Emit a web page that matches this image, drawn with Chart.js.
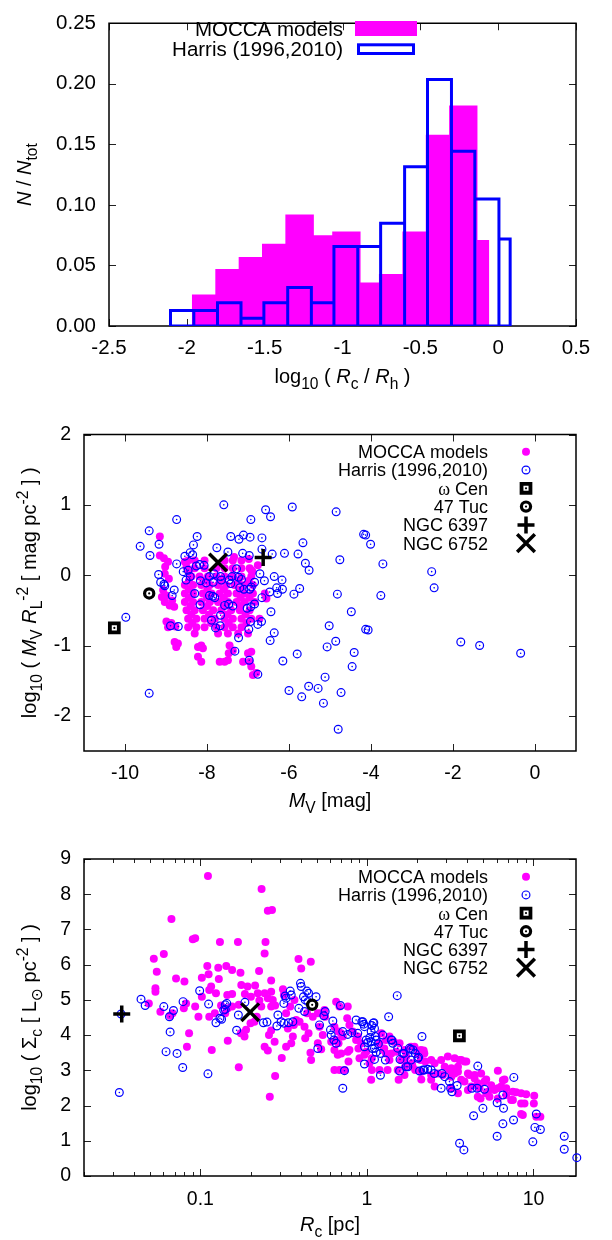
<!DOCTYPE html>
<html>
<head>
<meta charset="utf-8">
<script src="https://cdn.jsdelivr.net/npm/chart.js@4.4.1/dist/chart.umd.min.js"></script>
<style>
body { margin: 0; background: #fff; width: 612px; height: 1240px; position: relative; overflow: hidden; }
canvas { position: absolute; left: 0; }
</style>
</head>
<body>
<canvas id="histChart" width="612" height="400" style="top:0px"></canvas>
<canvas id="magChart" width="612" height="425" style="top:400px"></canvas>
<canvas id="sigmaChart" width="612" height="415" style="top:825px"></canvas>
<script>
var SANS = "'Liberation Sans', 'DejaVu Sans', Arial, sans-serif";
var SERIF = "'Liberation Serif', 'DejaVu Serif', serif";
var MAGENTA = '#ff00ff';
var BLUE = '#0000ff';

var seriesNames = ['MOCCA models', 'Harris (1996,2010)'];

// ---- panel 1: histogram of log10(Rc/Rh)
var moccaEdges = [-1.968, -1.817, -1.667, -1.517, -1.367, -1.184, -1.066, -0.884, -0.766, -0.615, -0.465, -0.315, -0.133, -0.057];
var moccaFrac = [0.026, 0.047, 0.057, 0.068, 0.092, 0.075, 0.078, 0.036, 0.043, 0.078, 0.158, 0.182, 0.071];
var harrisEdges = [-2.105, -1.955, -1.803, -1.652, -1.505, -1.352, -1.200, -1.055, -0.902, -0.755, -0.601, -0.454, -0.300, -0.150, 0.005, 0.077];
var harrisFrac = [0.0127, 0.0127, 0.0191, 0.0064, 0.0191, 0.0318, 0.0191, 0.0656, 0.0656, 0.0849, 0.1314, 0.2035, 0.1442, 0.1048, 0.0718];
var histXTicks = [-2.5, -2, -1.5, -1, -0.5, 0, 0.5];
var histXLabels = ['-2.5', '-2', '-1.5', '-1', '-0.5', '0', '0.5'];
var histYTicks = [0, 0.05, 0.1, 0.15, 0.2, 0.25];
var histYLabels = ['0.00', '0.05', '0.10', '0.15', '0.20', '0.25'];

// ---- special clusters (panels 2 and 3)
var specialNames = ['ω Cen', '47 Tuc', 'NGC 6397', 'NGC 6752'];
var specialMv = [-10.26, -9.41, -6.63, -7.73];
var specialMvR = [-0.75, -0.26, 0.25, 0.18];
var specialRc = [3.59, 0.469, 0.0337, 0.199];
var specialSigma = [3.98, 4.86, 4.60, 4.65];

// ---- panel 2: [M_V, log10(M_V R_L^-2)]
var moccaMag = [
  [-9.15, 0.55], [-9.15, 0.28], [-9.05, 0.24], [-8.95, 0.19], [-9.02, 0.12],
  [-9.03, 0.02], [-8.93, -0.05], [-9.07, -0.21], [-8.99, -0.29], [-9.03, -0.38], [-8.91, -0.43], [-8.80, -0.45], [-8.85, -0.36], [-9.10, -0.31],
  [-8.99, -0.66], [-8.87, -0.68], [-8.77, -0.73], [-8.95, -0.74],
  [-8.79, -0.95], [-8.75, -1.02], [-8.71, -0.97],
  [-8.54, 0.19], [-8.46, 0.21], [-8.50, 0.12], [-8.45, 0.05],
  [-8.30, 0.21], [-8.06, 0.21], [-7.57, 0.21], [-7.37, 0.21], [-7.16, 0.21],
  [-8.30, 0.10], [-8.06, 0.10], [-7.77, 0.10], [-7.57, 0.10], [-7.37, 0.10], [-7.16, 0.10], [-6.96, 0.10],
  [-8.38, -0.02], [-8.18, -0.02], [-7.98, -0.02], [-7.77, -0.02], [-7.57, -0.02], [-7.37, -0.02], [-7.16, -0.02], [-6.92, -0.02],
  [-8.44, -0.08], [-8.04, -0.08], [-7.63, -0.08], [-7.23, -0.08], [-6.98, -0.08],
  [-8.54, -0.14], [-8.34, -0.14], [-8.14, -0.14], [-7.93, -0.14], [-7.73, -0.14], [-7.53, -0.14], [-7.33, -0.14], [-7.08, -0.14], [-6.88, -0.14],
  [-8.44, -0.20], [-7.99, -0.20], [-7.59, -0.20], [-7.18, -0.20],
  [-8.54, -0.26], [-8.34, -0.26], [-8.10, -0.26], [-7.89, -0.26], [-7.69, -0.26], [-7.49, -0.26], [-7.28, -0.26], [-7.08, -0.26], [-6.88, -0.26],
  [-8.44, -0.32], [-8.00, -0.32], [-7.59, -0.32], [-7.18, -0.32], [-6.96, -0.32],
  [-8.54, -0.38], [-8.34, -0.38], [-8.14, -0.38], [-7.93, -0.38], [-7.73, -0.38], [-7.49, -0.38], [-7.28, -0.38], [-7.08, -0.38], [-6.84, -0.38],
  [-8.40, -0.44], [-7.99, -0.44], [-7.59, -0.44], [-7.18, -0.44],
  [-8.50, -0.50], [-8.30, -0.50], [-8.10, -0.50], [-7.85, -0.50], [-7.65, -0.50], [-7.41, -0.50], [-7.20, -0.50], [-6.96, -0.50],
  [-8.38, -0.56], [-7.95, -0.56], [-7.50, -0.56], [-7.06, -0.56],
  [-8.46, -0.62], [-8.26, -0.62], [-8.06, -0.62], [-7.81, -0.62], [-7.57, -0.62], [-7.37, -0.62], [-7.16, -0.62], [-6.92, -0.62], [-6.72, -0.62],
  [-8.36, -0.68], [-7.90, -0.68], [-7.47, -0.68], [-7.04, -0.68],
  [-8.46, -0.74], [-8.26, -0.74], [-8.06, -0.74], [-7.77, -0.74], [-7.57, -0.74], [-7.37, -0.74], [-7.16, -0.74],
  [-8.30, -0.83], [-7.73, -0.83], [-7.49, -0.83], [-7.24, -0.83], [-7.00, -0.83],
  [-8.14, -1.00], [-8.22, -1.02], [-8.10, -1.04], [-8.22, -1.16], [-8.14, -1.23],
  [-7.69, -1.23], [-7.57, -1.23], [-7.49, -1.21],
  [-7.45, -1.00], [-7.37, -1.07], [-7.47, -1.11],
  [-7.12, -1.23], [-6.96, -1.23], [-6.92, -1.30], [-6.88, -1.42], [-6.80, -1.39],
  [-7.00, -1.11], [-6.92, -1.09],
  [-6.98, 0.23], [-6.92, 0.07], [-6.76, 0.14], [-6.59, -0.26], [-6.55, -0.33], [-6.89, 0.05], [-7.34, 0.26]
];
var harrisMag = [
  [-7.59, 1.00], [-5.92, 0.97], [-4.85, 0.90], [-6.57, 0.93], [-6.45, 0.83], [-6.93, 0.79], [-8.74, 0.79], [-9.41, 0.63],
  [-9.63, 0.41], [-9.17, 0.44], [-9.39, 0.28], [-8.24, 0.55], [-7.42, 0.55], [-7.22, 0.51], [-7.11, 0.57], [-6.95, 0.54],
  [-6.66, 0.53], [-5.66, 0.46], [-4.18, 0.58], [-4.13, 0.57], [-4.01, 0.44], [-7.76, 0.39], [-7.49, 0.33], [-7.13, 0.31],
  [-6.97, 0.28], [-6.66, 0.37], [-6.41, 0.30], [-6.11, 0.31], [-5.78, 0.30], [-4.76, 0.22], [-5.60, 0.17], [-5.51, 0.07],
  [-3.71, 0.16], [-2.52, 0.05], [-2.46, -0.18], [-6.71, 0.02], [-6.60, -0.08], [-6.36, -0.02], [-6.17, -0.07], [-6.30, -0.18],
  [-6.16, -0.20], [-6.47, -0.24], [-6.28, -0.26], [-5.88, -0.27], [-5.74, -0.19], [-4.82, -0.27], [-3.76, -0.29], [-6.66, -0.32],
  [-6.44, -0.52], [-4.48, -0.52], [-5.02, -0.72], [-4.13, -0.77], [-4.07, -0.78], [-6.36, -0.82], [-6.46, -0.93], [-7.23, -0.89],
  [-7.32, -1.08], [-6.97, -1.21], [-6.76, -1.41], [-6.15, -1.22], [-5.80, -1.12], [-5.07, -1.02], [-4.86, -0.94], [-4.41, -1.10],
  [-4.46, -1.30], [-5.12, -1.45], [-5.52, -1.58], [-5.29, -1.61], [-6.00, -1.64], [-5.69, -1.73], [-4.73, -1.67], [-5.16, -1.82],
  [-4.80, -2.19], [-9.41, -1.68], [-9.98, -0.60], [-1.81, -0.95], [-1.35, -1.00], [-0.35, -1.11], [-9.18, 0.01], [-9.13, -0.10],
  [-9.05, -0.13], [-8.85, -0.29], [-8.80, -0.21], [-8.89, -0.72], [-8.70, -0.73], [-8.74, 0.16],
  [-8.33, 0.43], [-9.03, -0.15], [-8.54, 0.27], [-8.41, 0.32], [-8.35, 0.29], [-8.26, 0.13], [-8.18, 0.15], [-8.07, 0.14],
  [-8.58, 0.05], [-8.46, 0.07], [-8.41, -0.02], [-8.51, -0.07], [-8.30, -0.26], [-8.16, -0.08], [-8.02, -0.11], [-7.94, -0.02],
  [-7.83, 0.02], [-7.85, -0.10], [-7.86, -0.30], [-7.94, -0.29], [-7.81, -0.32], [-7.67, -0.02], [-7.65, -0.07], [-7.46, -0.07],
  [-7.42, -0.12], [-7.28, 0.09], [-7.23, -0.03], [-7.39, -0.02], [-7.16, -0.06], [-7.20, -0.18], [-7.10, -0.20], [-6.96, -0.20],
  [-6.92, -0.17], [-6.84, -0.10], [-8.17, -0.42], [-7.57, -0.43], [-7.47, -0.41], [-7.37, -0.44], [-7.02, -0.47], [-6.93, -0.45],
  [-6.84, -0.41], [-7.67, -0.57], [-7.89, -0.64], [-7.79, -0.75], [-7.68, -0.72], [-6.94, -0.66], [-6.76, -0.70], [-6.67, -0.66],
  [-6.98, -0.77]
];
var magXTicks = [-10, -8, -6, -4, -2, 0];
var magXLabels = ['-10', '-8', '-6', '-4', '-2', '0'];
var magYTicks = [-2, -1, 0, 1, 2];
var magYLabels = ['-2', '-1', '0', '1', '2'];

// ---- panel 3: [R_c (pc), log10(Sigma_c)]
var moccaSigma = [
  [0.111, 8.52], [0.233, 8.15], [0.254, 7.53], [0.269, 7.55], [0.067, 7.30], [0.090, 6.72], [0.093, 6.75], [0.131, 6.64],
  [0.168, 6.64], [0.246, 6.64], [0.243, 6.32], [0.0525, 6.17], [0.0603, 6.30], [0.0547, 5.80], [0.0537, 5.33], [0.0537, 5.23],
  [0.0575, 4.66], [0.049, 4.90], [0.0714, 5.61], [0.0802, 5.52], [0.110, 5.96], [0.112, 5.73], [0.102, 5.63], [0.128, 5.91],
  [0.143, 5.96], [0.155, 5.85], [0.174, 5.77], [0.129, 5.59], [0.116, 5.38], [0.113, 5.28], [0.124, 5.19], [0.145, 5.14],
  [0.155, 5.17], [0.176, 5.42], [0.192, 5.38], [0.213, 5.41], [0.225, 5.82], [0.266, 5.55], [0.266, 5.23], [0.243, 5.19],
  [0.221, 5.19], [0.201, 5.09], [0.185, 5.17], [0.272, 5.00], [0.254, 5.05], [0.313, 5.30], [0.317, 5.14], [0.281, 4.84],
  [0.266, 4.81], [0.226, 4.98], [0.232, 4.81], [0.170, 4.86], [0.155, 4.81], [0.133, 4.84], [0.146, 4.76], [0.141, 4.62],
  [0.122, 4.62], [0.113, 4.52], [0.0973, 4.52], [0.093, 4.81], [0.102, 5.09], [0.0795, 4.76], [0.082, 4.90], [0.068, 4.62],
  [0.0658, 4.55], [0.0855, 4.05], [0.083, 3.67], [0.117, 3.58], [0.146, 3.84], [0.170, 3.09], [0.184, 3.96], [0.175, 4.05],
  [0.188, 4.15], [0.200, 4.34], [0.218, 4.52], [0.211, 4.38], [0.258, 4.00], [0.266, 4.13], [0.279, 3.81], [0.243, 3.67],
  [0.254, 3.56], [0.281, 2.84], [0.261, 2.25], [0.308, 3.35], [0.327, 3.67], [0.351, 3.77], [0.359, 3.96], [0.335, 4.19],
  [0.364, 4.29], [0.376, 4.43], [0.394, 4.38], [0.422, 4.24], [0.426, 3.91], [0.458, 3.50], [0.462, 3.29], [0.388, 6.16],
  [0.403, 5.89], [0.460, 6.08], [0.437, 4.62], [0.473, 4.52], [0.507, 4.62], [0.519, 4.24], [0.543, 4.00], [0.531, 4.62],
  [0.556, 4.71], [0.561, 4.52], [0.610, 3.81], [0.638, 3.58], [0.638, 4.24], [0.675, 4.10], [0.716, 3.96], [0.653, 4.95],
  [0.684, 4.81], [0.767, 4.81], [0.761, 4.48], [0.785, 4.29], [0.675, 3.77], [0.700, 3.48], [0.767, 3.53], [0.775, 3.25],
  [0.684, 3.01], [0.733, 3.01], [0.881, 3.96], [0.923, 3.77], [0.889, 3.62], [0.966, 3.44], [0.902, 3.34], [1.07, 3.01],
  [1.07, 3.34], [1.19, 3.77], [1.26, 3.58], [1.30, 3.48], [1.365, 3.96], [1.45, 3.81], [1.365, 3.29], [1.53, 3.01],
  [1.68, 2.87], [1.50, 3.53], [1.60, 3.29], [1.72, 3.39], [1.93, 3.67], [2.02, 3.48], [2.19, 3.56], [2.10, 3.29],
  [2.24, 3.25], [2.43, 3.29], [2.55, 3.20], [2.12, 2.74], [2.43, 2.73], [2.55, 2.54], [2.67, 2.91], [2.86, 2.87],
  [3.21, 2.82], [2.79, 3.29], [3.06, 3.39], [3.36, 3.34], [3.60, 3.29], [3.85, 3.25], [2.93, 3.10], [3.21, 3.06],
  [3.52, 3.10], [3.36, 2.91], [3.68, 2.73], [4.13, 2.87], [4.43, 2.77], [4.85, 2.91], [5.20, 2.74], [4.23, 2.54],
  [4.74, 2.49], [5.32, 2.39], [5.83, 2.44], [6.11, 2.99], [6.70, 2.74], [6.40, 2.54], [6.86, 2.49], [7.87, 2.38],
  [9.04, 2.32], [10.1, 2.28], [8.43, 2.06], [10.05, 2.06], [7.52, 2.16], [8.63, 1.73], [10.4, 1.68], [11.0, 1.68],
  [4.81, 2.20], [5.44, 2.25], [6.11, 2.20], [3.85, 2.68], [4.04, 2.44], [3.21, 2.49], [3.52, 2.35], [1.95, 3.01],
  [2.12, 2.96], [1.69, 3.09], [1.86, 3.20], [1.06, 2.73], [1.19, 3.01], [1.33, 3.01], [1.55, 2.73], [0.638, 3.01],
  [0.531, 3.60], [0.507, 3.77], [0.446, 4.05], [0.346, 4.81], [0.367, 5.00], [0.327, 4.62],
  [0.653, 3.86], [0.700, 4.05], [0.668, 3.44], [0.822, 4.10], [0.861, 3.86], [0.785, 3.58], [1.035, 3.20], [0.99, 3.53],
  [1.22, 4.05], [1.30, 3.86], [1.27, 3.62], [1.40, 3.48], [1.57, 3.77], [1.68, 3.58], [1.84, 3.67], [2.11, 3.58],
  [2.21, 3.48], [1.68, 3.29], [1.88, 3.10], [2.43, 2.87], [3.68, 3.29], [3.95, 3.25], [3.13, 3.01], [3.52, 2.96],
  [4.04, 2.91], [4.43, 2.87], [4.63, 2.63], [5.08, 2.68], [5.57, 2.58], [6.11, 2.49], [6.55, 2.72], [4.63, 2.25],
  [5.20, 2.35], [7.52, 2.39], [8.43, 2.35], [8.83, 2.06], [8.43, 1.76], [6.86, 2.30], [7.35, 2.16]
];
var harrisSigma = [
  [0.0326, 2.37], [0.0334, 4.60], [0.044, 5.02], [0.0466, 4.84], [0.0603, 4.81], [0.0652, 4.52], [0.0689, 4.70], [0.0658, 4.09],
  [0.0622, 3.53], [0.0724, 3.48], [0.0783, 3.08], [0.0787, 4.95], [0.099, 5.26], [0.112, 4.88], [0.111, 2.90], [0.124, 4.35],
  [0.134, 4.45], [0.138, 4.71], [0.141, 4.86], [0.144, 4.90], [0.131, 4.48], [0.141, 4.73], [0.165, 4.14], [0.169, 4.57],
  [0.185, 4.93], [0.239, 4.35], [0.251, 4.37], [0.292, 4.57], [0.288, 4.26], [0.305, 4.38], [0.317, 4.34], [0.323, 5.11],
  [0.317, 4.90], [0.327, 5.05], [0.346, 5.25], [0.351, 5.14], [0.338, 4.35], [0.359, 4.38], [0.390, 4.76], [0.399, 5.47],
  [0.403, 5.38], [0.416, 5.09], [0.426, 5.00], [0.436, 5.25], [0.446, 5.19], [0.422, 4.67], [0.442, 4.95], [0.495, 5.09],
  [0.519, 4.29], [0.507, 3.62], [0.551, 4.55], [0.561, 4.67], [0.604, 4.15], [0.610, 4.00], [0.633, 3.86], [0.653, 3.77],
  [0.693, 4.84], [0.716, 4.10], [0.733, 2.99], [0.716, 2.49], [0.767, 4.02], [0.811, 4.07], [0.861, 4.43], [0.881, 4.05],
  [0.931, 4.38], [0.957, 4.31], [0.989, 3.86], [1.01, 3.79], [0.966, 3.67], [1.04, 3.93], [1.06, 3.81], [1.08, 3.62],
  [1.10, 4.35], [1.07, 4.27], [1.12, 3.96], [1.135, 3.51], [1.17, 3.75], [1.11, 3.31], [1.205, 3.48], [1.29, 3.29],
  [0.966, 3.18], [1.205, 2.86], [1.35, 4.52], [1.41, 3.86], [1.43, 3.77], [1.52, 5.12], [1.58, 3.31], [1.72, 3.10],
  [1.67, 3.48], [1.83, 3.60], [1.89, 3.58], [1.95, 3.48], [2.02, 3.34], [2.14, 3.96], [2.17, 3.01], [2.32, 3.03],
  [2.43, 3.01], [2.82, 2.91], [2.93, 2.82], [3.18, 2.49], [3.24, 2.39], [2.79, 2.49], [3.48, 2.57], [3.60, 0.93],
  [3.82, 0.74], [4.37, 1.71], [4.27, 2.49], [4.59, 2.49], [5.08, 2.46], [4.97, 1.92], [4.63, 3.12], [6.05, 2.08],
  [6.55, 2.30], [6.61, 1.92], [6.05, 1.13], [6.55, 1.48], [7.62, 2.80], [7.59, 1.59], [10.4, 1.76], [9.91, 0.97],
  [10.2, 1.38], [11.0, 1.32], [15.3, 1.13], [15.3, 0.76], [18.2, 0.52],
  [0.624, 4.40], [0.944, 4.38], [0.966, 4.24], [1.09, 4.34], [1.11, 4.19], [1.06, 4.10], [1.135, 3.86], [1.11, 3.63],
  [1.245, 4.00], [1.40, 3.86], [1.53, 3.63], [1.64, 3.48], [1.80, 3.63], [2.04, 3.37], [1.57, 2.98], [1.76, 3.10],
  [1.84, 3.29], [2.07, 2.98], [2.21, 3.01], [2.54, 2.91], [3.13, 2.68]
];
var sigXTicks = [0.1, 1, 10];
var sigXLabels = ['0.1', '1', '10'];
var sigYTicks = [0, 1, 2, 3, 4, 5, 6, 7, 8, 9];
var sigYLabels = ['0', '1', '2', '3', '4', '5', '6', '7', '8', '9'];

// minor ticks of the log axis
var sigXMinor = [];
[0.01, 0.1, 1, 10].forEach(function (d) {
  for (var m = 2; m <= 9; m++) {
    if (d * m >= 0.02 && d * m <= 18) sigXMinor.push(d * m);
  }
});

// marker styles shared by the datasets and the legends
var styles = {
  mocca: {pointStyle: 'circle', pointRadius: 4, pointBackgroundColor: MAGENTA, pointBorderColor: MAGENTA, pointBorderWidth: 0},
  harris: {pointStyle: 'circle', pointRadius: 3.9, pointBackgroundColor: 'rgba(0,0,0,0)', pointBorderColor: BLUE, pointBorderWidth: 1.2},
  harrisDot: {pointStyle: 'circle', pointRadius: 0.8, pointBackgroundColor: BLUE, pointBorderColor: BLUE, pointBorderWidth: 0},
  omega: {pointStyle: 'rect', pointRadius: 6.3, pointBackgroundColor: '#fff', pointBorderColor: '#000', pointBorderWidth: 3.8},
  tuc: {pointStyle: 'circle', pointRadius: 4.6, pointBackgroundColor: '#fff', pointBorderColor: '#000', pointBorderWidth: 3.2},
  blackDot: {pointStyle: 'circle', pointRadius: 1.1, pointBackgroundColor: '#000', pointBorderColor: '#000', pointBorderWidth: 0},
  ngc6397: {pointStyle: 'cross', pointRadius: 8.5, pointBackgroundColor: '#000', pointBorderColor: '#000', pointBorderWidth: 3.5},
  ngc6752: {pointStyle: 'crossRot', pointRadius: 12.5, pointBackgroundColor: '#000', pointBorderColor: '#000', pointBorderWidth: 3.5}
};
var specialMarks = [['omega', 'blackDot'], ['tuc', 'blackDot'], ['ngc6397'], ['ngc6752']];

function pts(pairs) {
  return pairs.map(function (p) { return {x: p[0], y: p[1]}; });
}

function histPath(edges, vals, close) {
  var p = [];
  vals.forEach(function (v, i) {
    p.push({x: edges[i], y: 0}, {x: edges[i], y: v}, {x: edges[i + 1], y: v}, {x: edges[i + 1], y: 0});
  });
  if (close) p.push({x: edges[0], y: 0});
  return p;
}

// text with italic / subscript / superscript pieces
function richText(ctx, parts, x, y, size, align, vertical) {
  var small = size * 0.78;
  var items = parts.map(function (p) {
    var f = p[1] || '';
    var sz = (f.indexOf('b') > -1 || f.indexOf('p') > -1) ? small : size;
    var font = (f.indexOf('i') > -1 ? 'italic ' : '') + sz + 'px ' + (f.indexOf('s') > -1 ? SERIF : SANS);
    ctx.font = font;
    var dy = f.indexOf('b') > -1 ? size * 0.3 : (f.indexOf('p') > -1 ? -size * 0.42 : 0);
    return {t: p[0], font: font, dy: dy, w: ctx.measureText(p[0]).width};
  });
  var total = items.reduce(function (a, it) { return a + it.w; }, 0);
  ctx.save();
  ctx.translate(x, y);
  if (vertical) ctx.rotate(-Math.PI / 2);
  var cx = align === 'center' ? -total / 2 : (align === 'right' ? -total : 0);
  ctx.fillStyle = '#000';
  ctx.textBaseline = 'alphabetic';
  ctx.textAlign = 'left';
  items.forEach(function (it) {
    ctx.font = it.font;
    ctx.fillText(it.t, cx, it.dy);
    cx += it.w;
  });
  ctx.restore();
}

// same shapes as chart.js point styles, for the legend
function drawMark(ctx, st, x, y) {
  var r = st.pointRadius;
  ctx.save();
  ctx.fillStyle = st.pointBackgroundColor;
  ctx.strokeStyle = st.pointBorderColor;
  ctx.lineWidth = st.pointBorderWidth || 1;
  ctx.beginPath();
  if (st.pointStyle === 'circle') {
    ctx.arc(x, y, r, 0, Math.PI * 2);
    ctx.fill();
  } else if (st.pointStyle === 'rect') {
    var h = r * Math.SQRT1_2;
    ctx.rect(x - h, y - h, 2 * h, 2 * h);
    ctx.fill();
  } else if (st.pointStyle === 'cross') {
    ctx.moveTo(x - r, y); ctx.lineTo(x + r, y);
    ctx.moveTo(x, y - r); ctx.lineTo(x, y + r);
  } else {
    var d = r * Math.SQRT1_2;
    ctx.moveTo(x - d, y - d); ctx.lineTo(x + d, y + d);
    ctx.moveTo(x - d, y + d); ctx.lineTo(x + d, y - d);
  }
  if (st.pointBorderWidth > 0) ctx.stroke();
  ctx.restore();
}

function labelParts(name) {
  if (name.charAt(0) === 'ω') return [['ω', 's'], [name.slice(1)]];
  return [[name]];
}

function markLegend(textRight, markX, y0, dy) {
  var items = [
    {text: seriesNames[0], marks: ['mocca']},
    {text: seriesNames[1], marks: ['harris', 'harrisDot']}
  ];
  specialNames.forEach(function (n, i) { items.push({text: n, marks: specialMarks[i]}); });
  return function (ctx) {
    items.forEach(function (it, i) {
      var y = y0 + i * dy;
      richText(ctx, labelParts(it.text), textRight, y + 6.4, 18, 'right', false);
      it.marks.forEach(function (m) { drawMark(ctx, styles[m], markX, y); });
    });
  };
}

// frame, inward ticks, axis titles and legend
function decor(cfg) {
  return {
    id: 'decor',
    beforeDatasetsDraw: function (chart) {
      var ctx = chart.ctx, a = chart.chartArea, sx = chart.scales.x, sy = chart.scales.y;
      ctx.save();
      ctx.strokeStyle = '#222';
      ctx.lineWidth = 1;
      ctx.beginPath();
      var xt = function (v, len) {
        var p = Math.round(sx.getPixelForValue(v)) + 0.5;
        ctx.moveTo(p, a.bottom); ctx.lineTo(p, a.bottom - len);
        ctx.moveTo(p, a.top); ctx.lineTo(p, a.top + len);
      };
      var yt = function (v, len) {
        var p = Math.round(sy.getPixelForValue(v)) + 0.5;
        ctx.moveTo(a.left, p); ctx.lineTo(a.left + len, p);
        ctx.moveTo(a.right, p); ctx.lineTo(a.right - len, p);
      };
      cfg.xTicks.forEach(function (v) { xt(v, 7); });
      cfg.xMinor.forEach(function (v) { xt(v, 4); });
      cfg.yTicks.forEach(function (v) { yt(v, 7); });
      ctx.stroke();
      ctx.strokeStyle = '#000';
      ctx.lineWidth = 1.5;
      ctx.strokeRect(a.left, a.top, a.right - a.left, a.bottom - a.top);
      ctx.restore();
    },
    afterDraw: function (chart) {
      var ctx = chart.ctx, a = chart.chartArea;
      richText(ctx, cfg.xTitle, (a.left + a.right) / 2, cfg.xTitleY, 20, 'center', false);
      richText(ctx, cfg.yTitle, cfg.yTitleX, (a.top + a.bottom) / 2, 20, 'center', true);
      cfg.legend(ctx);
    }
  };
}

function axis(type, min, max, ticks, labels, size, pad, fit) {
  return {
    type: type, min: min, max: max,
    grid: {display: false, drawTicks: false},
    border: {display: false},
    ticks: {
      autoSkip: false, maxRotation: 0, padding: pad, color: '#000',
      font: {family: SANS, size: size, lineHeight: 1},
      callback: function (v, i) { return labels[i]; }
    },
    afterBuildTicks: function (s) { s.ticks = ticks.map(function (v) { return {value: v}; }); },
    afterFit: fit
  };
}

function baseOptions(top, xHeight, yWidth, xScale, yScale) {
  xScale.afterFit = function (s) { s.height = xHeight; };
  yScale.afterFit = function (s) { s.width = yWidth; };
  return {
    responsive: false, animation: false, devicePixelRatio: 1, events: [],
    layout: {padding: {left: 0, right: 36, top: top, bottom: 0}, autoPadding: false},
    plugins: {legend: {display: false}, tooltip: {enabled: false}},
    scales: {x: xScale, y: yScale}
  };
}

function scatterSets(mocca, harris, sx, sy) {
  var sets = [
    Object.assign({data: pts(mocca), order: 9, clip: false}, styles.mocca),
    Object.assign({data: pts(harris), order: 8, clip: false}, styles.harris),
    Object.assign({data: pts(harris), order: 7, clip: false}, styles.harrisDot)
  ];
  specialNames.forEach(function (n, i) {
    specialMarks[i].forEach(function (m, k) {
      sets.push(Object.assign({data: [{x: sx[i], y: sy[i]}], order: 4 - k, clip: false}, styles[m]));
    });
  });
  return sets;
}

// panel 1
new Chart(document.getElementById('histChart'), {
  type: 'scatter',
  data: {
    datasets: [
      {data: histPath(harrisEdges, harrisFrac, true), showLine: true, fill: false, borderColor: BLUE, borderWidth: 3, pointRadius: 0, order: 1},
      {data: histPath(moccaEdges, moccaFrac, false), showLine: true, fill: 'origin', backgroundColor: MAGENTA, borderColor: 'rgba(0,0,0,0)', borderWidth: 1, pointRadius: 0, order: 2}
    ]
  },
  options: baseOptions(10, 74, 109,
    axis('linear', -2.5, 0.5, histXTicks, histXLabels, 20.5, 12),
    axis('linear', 0, 0.25, histYTicks, histYLabels, 20.5, 13)),
  plugins: [decor({
    xTicks: histXTicks, xMinor: [], yTicks: histYTicks,
    xTitle: [['log'], ['10', 'b'], [' ( '], ['R', 'i'], ['c', 'b'], [' / '], ['R', 'i'], ['h', 'b'], [' )']],
    xTitleY: 383,
    yTitle: [['N', 'i'], [' / '], ['N', 'i'], ['tot', 'b']],
    yTitleX: 31,
    legend: function (ctx) {
      richText(ctx, [[seriesNames[0]]], 343, 35.7, 20.5, 'right', false);
      richText(ctx, [[seriesNames[1]]], 343, 55.5, 20.5, 'right', false);
      ctx.save();
      ctx.fillStyle = MAGENTA;
      ctx.fillRect(355, 21, 62, 15);
      ctx.strokeStyle = BLUE;
      ctx.lineWidth = 3;
      ctx.strokeRect(358.5, 44.8, 55, 8.7);
      ctx.restore();
    }
  })]
});

// panel 2
new Chart(document.getElementById('magChart'), {
  type: 'scatter',
  data: {datasets: scatterSets(moccaMag, harrisMag, specialMv, specialMvR)},
  options: baseOptions(34.5, 74, 84,
    axis('linear', -11, 1, magXTicks, magXLabels, 19.5, 12.5),
    axis('linear', -2.5, 2, magYTicks, magYLabels, 19.5, 13)),
  plugins: [decor({
    xTicks: magXTicks, xMinor: [], yTicks: magYTicks,
    xTitle: [['M', 'i'], ['V', 'b'], [' [mag]']],
    xTitleY: 407,
    yTitle: [['log'], ['10', 'b'], [' ( '], ['M', 'i'], ['V', 'b'], [' '], ['R', 'i'], ['L', 'b'], ['-2', 'p'], [' [ mag pc'], ['-2', 'p'], [' ] )']],
    yTitleX: 36,
    legend: markLegend(488, 526, 51.7, 18.3)
  })]
});

// panel 3
new Chart(document.getElementById('sigmaChart'), {
  type: 'scatter',
  data: {datasets: scatterSets(moccaSigma, harrisSigma, specialRc, specialSigma)},
  options: baseOptions(34, 64, 84,
    axis('logarithmic', 0.02, 18, sigXTicks, sigXLabels, 19.5, 13.5),
    axis('linear', 0, 9, sigYTicks, sigYLabels, 19.5, 13)),
  plugins: [decor({
    xTicks: sigXTicks, xMinor: sigXMinor, yTicks: sigYTicks,
    xTitle: [['R', 'i'], ['c', 'b'], [' [pc]']],
    xTitleY: 406,
    yTitle: [['log'], ['10', 'b'], [' ( Σ'], ['c', 'b'], [' [ L'], ['⊙', 'b'], [' pc'], ['-2', 'p'], [' ] )']],
    yTitleX: 36,
    legend: markLegend(488, 526, 51.7, 18.2)
  })]
});
</script>
</body>
</html>
